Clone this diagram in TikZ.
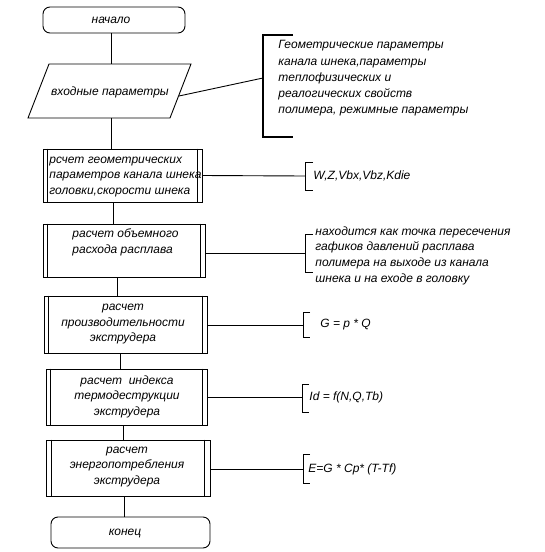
\documentclass[tikz,border=0pt]{standalone}
\usepackage{fontspec}
\setmainfont{Liberation Sans}
\begin{document}
\begin{tikzpicture}[x=1pt,y=-1pt,line width=0.9pt,
  every node/.style={font=\fontsize{12}{15.5}\selectfont\itshape},
  term/.style={draw,rounded corners=7pt,inner sep=0pt},
  proc/.style={draw,inner sep=0pt},
  note/.style={align=left,inner sep=0pt,anchor=north west},
  txt/.style={inner sep=0pt}]
\useasboundingbox (0,0) rectangle (545,552);
% start
\node[term,minimum width=142pt,minimum height=26pt] (start) at (114,20) {};
\node[txt] (starttxt) at (111,20) {начало};
% input parallelogram
\coordinate (p1) at (49,64); \coordinate (p2) at (191,64);
\coordinate (p3) at (170,118); \coordinate (p4) at (28,118);
\draw (p1) -- (p2) -- (p3) -- (p4) -- cycle;
\node[txt] (in) at (110,92) {входные параметры};
\coordinate (inr) at (179,96);
% processes
\newcommand{\procbox}[5]{%
  \node[proc,minimum width=#3pt,minimum height=#4pt] (#1) at (#2) {};
  \draw ([xshift=#5pt]#1.north west) -- ([xshift=#5pt]#1.south west);
  \draw ([xshift=-#5pt]#1.north east) -- ([xshift=-#5pt]#1.south east);}
\procbox{b1}{122.5,175.5}{159}{53}{5}
\procbox{b2}{124,250.5}{162}{53}{5}
\procbox{b3}{125.5,324.5}{163}{57}{5}
\procbox{b4}{126.5,397}{161}{56}{5}
\procbox{b5}{128,468}{164}{56}{6}
\node[term,minimum width=159pt,minimum height=31pt] (end) at (130.5,532.5) {};
\node[txt] (endtxt) at (125,533) {конец};
% box texts
\node[note] (t1) at (49,156.5) {рсчет геометрических\\параметров канала шнека\\головки,скорости шнека};
\node[note] (t2) at (72,228.5) {расчет объемного\\расхода расплава};
\node[txt,align=center] (t3) at (123,324.5) {расчет\\производительности\\экструдера};
\node[txt,align=center] (t4) at (127,396.5) {расчет\ \ индекса\\термодеструкции\\экструдера};
\node[txt,align=center] (t5) at (127,467) {расчет\\энергопотребления\\экструдера};
% vertical connectors
\coordinate (v1) at (111,0); \coordinate (v2) at (111,0); \coordinate (v3) at (113,0);
\coordinate (v4) at (117,0); \coordinate (v5) at (120,0); \coordinate (v6) at (123,0);
\coordinate (v7) at (124,0);
\draw (start.south -| v1) -- (p1 -| v1);
\draw (p4 -| v2) -- (b1.north -| v2);
\draw (b1.south -| v3) -- (b2.north -| v3);
\draw (b2.south -| v4) -- (b3.north -| v4);
\draw (b3.south -| v5) -- (b4.north -| v5);
\draw (b4.south -| v6) -- (b5.north -| v6);
\draw (b5.south -| v7) -- (end.north -| v7);
% brackets and notes
\draw[line width=1.6pt] (293,35) -- (263,35) -- (263,137) -- (293,137);
\coordinate (k1) at (263,78);
\draw (inr) -- (k1);
\node[note,font=\fontsize{12}{16.3}\selectfont\itshape] (n1) at (278,40) {Геометрические параметры\\канала шнека,параметры\\теплофизических и\\реалогических свойств\\полимера, режимные параметры};

\draw (313,162) -- (305,162) -- (305,190) -- (313,190);
\coordinate (k2) at (305,176);
\draw (b1.east) -- (k2);
\node[txt,anchor=west] (n2) at (313,176) {W,Z,Vbx,Vbz,Kdie};

\draw (313,234) -- (305,234) -- (305,272) -- (313,272);
\coordinate (k3) at (305,253);
\draw (b2.east |- k3) -- (k3);
\node[note,font=\fontsize{12}{15.7}\selectfont\itshape] (n3) at (315,226) {находится как точка пересечения\\гафиков давлений расплава\\полимера на выходе из канала\\шнека и на еходе в головку};

\draw (310,312) -- (303,312) -- (303,337) -- (310,337);
\coordinate (k4) at (303,325);
\draw (b3.east |- k4) -- (k4);
\node[txt,anchor=west] (n4) at (320,325) {G = p * Q};

\draw (309,384) -- (302,384) -- (302,412) -- (309,412);
\coordinate (k5) at (302,397);
\draw (b4.east |- k5) -- (k5);
\node[txt,anchor=west] (n5) at (309,397) {Id = f(N,Q,Tb)};

\draw (310,454) -- (303,454) -- (303,483) -- (310,483);
\coordinate (k6) at (303,469);
\draw (b5.east |- k6) -- (k6);
\node[txt,anchor=west] (n6) at (308,469) {E=G * Cp* (T-Tf)};
\end{tikzpicture}
\end{document}
